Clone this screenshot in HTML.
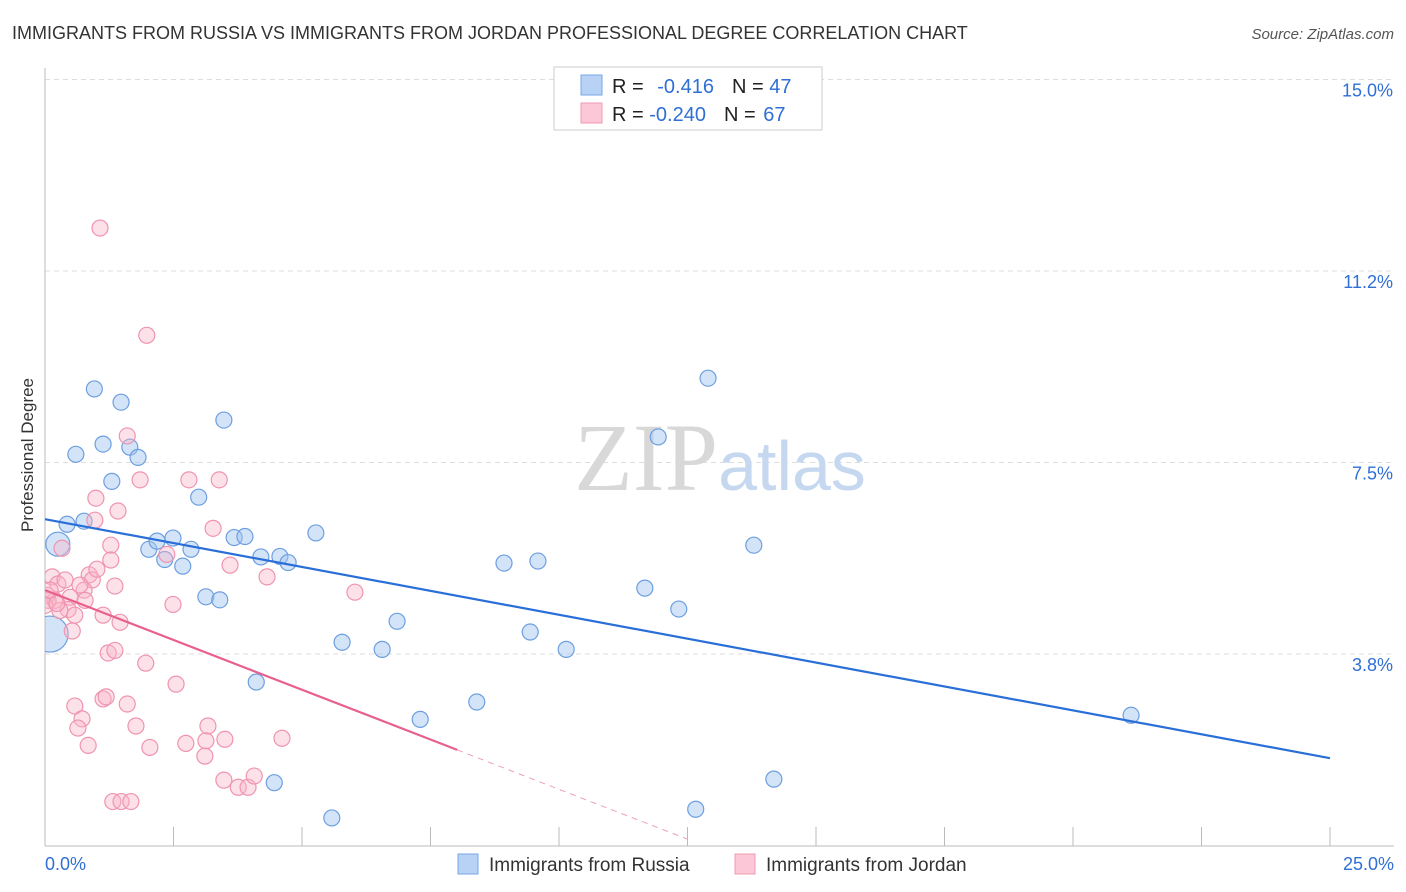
<!DOCTYPE html>
<html><head><meta charset="utf-8"><style>
body{margin:0;background:#fff;font-family:"Liberation Sans",sans-serif;}
svg{display:block}
</style></head><body>
<svg id="chart" width="1406" height="892" xmlns="http://www.w3.org/2000/svg" font-family="Liberation Sans, sans-serif">
<defs><clipPath id="plotclip"><rect x="45" y="60" width="1360" height="786"/></clipPath></defs>
<text x="12" y="39" font-size="18" fill="#333">IMMIGRANTS FROM RUSSIA VS IMMIGRANTS FROM JORDAN PROFESSIONAL DEGREE CORRELATION CHART</text>
<text x="1394" y="39" font-size="15" fill="#555" font-style="italic" text-anchor="end">Source: ZipAtlas.com</text>
<g id="grid"></g>
<g id="axes"></g>
<text x="720" y="490" font-size="96" text-anchor="middle"><tspan font-family="Liberation Serif, serif" fill="#d8d8d8">ZIP</tspan><tspan fill="#c5d8f0" font-size="70">atlas</tspan></text>
<text transform="translate(33,455) rotate(-90)" font-size="17" fill="#333" text-anchor="middle">Professional Degree</text>
<g id="points" clip-path="url(#plotclip)"></g>
<g id="lines"></g>
<g>
<rect x="554" y="67" width="268" height="63" fill="#fff" stroke="#ccc"/>
<rect x="581" y="75" width="21" height="20" fill="#b8d2f5" stroke="#7aa6e6"/>
<rect x="581" y="103" width="21" height="20" fill="#fcc7d6" stroke="#f09ab3"/>
<text x="612" y="93" font-size="20" fill="#222">R = <tspan fill="#2f6fd6" dx="8">-0.416</tspan><tspan dx="18">N = </tspan><tspan fill="#2f6fd6">47</tspan></text>
<text x="612" y="121" font-size="20" fill="#222">R = <tspan fill="#2f6fd6">-0.240</tspan><tspan dx="18">N = </tspan><tspan fill="#2f6fd6" dx="2">67</tspan></text>
</g>
<g>
<rect x="458" y="854" width="20" height="20" fill="#b8d2f5" stroke="#7aa6e6"/>
<text x="489" y="871" font-size="19" fill="#333">Immigrants from Russia</text>
<rect x="735" y="854" width="20" height="20" fill="#fcc7d6" stroke="#f09ab3"/>
<text x="766" y="871" font-size="19" fill="#333">Immigrants from Jordan</text>
</g>
</svg>
<script>
const yTicks=[3.75,7.5,11.25,15];
const yTickLabels=["3.8%","7.5%","11.2%","15.0%"];
const xTickLabels=["0.0%","25.0%"];
const russiaX=[0.96,1.48,0.60,1.13,1.65,1.81,1.30,3.48,2.99,0.43,0.76,0.25,2.02,2.18,2.49,2.84,2.33,2.68,3.68,3.89,4.20,4.57,4.73,5.27,3.13,3.40,4.11,5.78,6.56,6.85,7.30,8.40,8.93,9.59,9.44,10.14,11.67,11.93,12.33,12.90,13.79,14.18,12.66,4.46,5.58,21.13,0.10];
const russiaY=[8.94,8.68,7.66,7.86,7.80,7.60,7.13,8.33,6.82,6.29,6.35,5.90,5.80,5.96,6.02,5.80,5.60,5.47,6.03,6.05,5.65,5.66,5.54,6.12,4.87,4.81,3.20,3.98,3.84,4.39,2.47,2.81,5.53,5.57,4.18,3.84,5.04,8.00,4.63,9.15,5.88,1.30,0.71,1.23,0.54,2.55,4.14];
const russiaR=[8,8,8,8,8,8,8,8,8,8,8,12,8,8,8,8,8,8,8,8,8,8,8,8,8,8,8,8,8,8,8,8,8,8,8,8,8,8,8,8,8,8,8,8,8,8,18];
const jordanX=[1.07,1.98,1.60,0.99,1.42,0.97,0.33,1.85,2.80,3.39,1.28,2.37,3.27,3.60,4.32,6.03,0.14,0.25,0.04,0.19,0.49,0.45,0.58,0.53,0.86,0.92,0.76,1.01,1.36,1.13,1.46,1.23,1.36,1.96,2.49,2.55,1.13,1.19,1.60,0.58,0.72,0.64,0.84,1.77,2.04,2.74,3.17,3.13,3.50,3.11,4.61,3.48,3.76,3.95,4.07,1.32,1.48,1.67,0.06,0.10,0.00,0.29,0.39,0.68,1.28,0.78,0.23];
const jordanY=[12.09,9.99,8.02,6.80,6.55,6.37,5.82,7.16,7.16,7.16,5.88,5.70,6.21,5.49,5.26,4.96,5.26,5.12,4.90,4.80,4.86,4.62,4.51,4.20,5.30,5.20,5.00,5.41,5.08,4.51,4.37,3.77,3.82,3.57,4.72,3.16,2.87,2.91,2.77,2.73,2.48,2.30,1.96,2.34,1.92,2.00,2.34,2.05,2.08,1.75,2.10,1.28,1.14,1.14,1.36,0.86,0.86,0.86,4.80,5.00,4.70,4.60,5.20,5.10,5.59,4.80,4.74];
const russiaLine=[6.39,1.71];
const jordanLine=[5.00,-0.39,8.02,12.5];
const NS="http://www.w3.org/2000/svg";
const X=v=>45+v*51.4, Y=v=>845.5-v*51.07;
function mk(tag,attrs,parent){const e=document.createElementNS(NS,tag);for(const k in attrs)e.setAttribute(k,attrs[k]);parent.appendChild(e);return e;}
const grid=document.getElementById('grid'),axes=document.getElementById('axes'),pts=document.getElementById('points'),lines=document.getElementById('lines');
yTicks.forEach((t,i)=>{
 const l=mk('line',{x1:45,x2:1394,y1:Y(t),y2:Y(t),stroke:'#ddd','stroke-dasharray':'5,4'},grid);
 
 
 const tx=mk('text',{x:1393,y:Y(t)+17,'font-size':18,fill:'#2f6fd6','text-anchor':'end'},axes);
 tx.textContent=yTickLabels[i];
 
 
});
const ya=mk('line',{x1:45,x2:45,y1:68,y2:846,stroke:'#bbb'},axes);


const xa=mk('line',{x1:45,x2:1394,y1:846,y2:846,stroke:'#bbb'},axes);


for(let i=0;i<=10;i++){const t=mk('line',{x1:X(i*2.5),x2:X(i*2.5),y1:827,y2:846,stroke:'#bbb'},axes);
 
 }
[[0,'start',45],[25,'end',1394]].forEach((a,i)=>{const t=mk('text',{x:a[2],y:870,'font-size':18,fill:'#2f6fd6','text-anchor':a[1]},axes);t.textContent=xTickLabels[i];
 
 });
russiaX.forEach((x,i)=>{const c=mk('circle',{cx:X(x),cy:Y(russiaY[i]),r:russiaR[i],fill:'rgba(160,195,240,0.45)',stroke:'#6d9fe0','stroke-width':1.2},pts);
 
 });
jordanX.forEach((x,i)=>{const c=mk('circle',{cx:X(x),cy:Y(jordanY[i]),r:8,fill:'rgba(250,180,200,0.4)',stroke:'#ef94b0','stroke-width':1.2},pts);
 
 });
const rl=mk('line',{x1:X(0),y1:Y(russiaLine[0]),x2:X(25),y2:Y(russiaLine[1]),stroke:'#2a6fd8','stroke-width':2.2},lines);


const jy=x=>jordanLine[0]+jordanLine[1]*x;
const jl=mk('line',{x1:X(0),y1:Y(jy(0)),x2:X(jordanLine[2]),y2:Y(jy(jordanLine[2])),stroke:'#e8608e','stroke-width':2.2},lines);


const jd=mk('line',{x1:X(jordanLine[2]),y1:Y(jy(jordanLine[2])),x2:X(jordanLine[3]),y2:Y(jy(jordanLine[3])),stroke:'#eea0b8','stroke-width':1,'stroke-dasharray':'6,5'},lines);


</script>
</body></html>
